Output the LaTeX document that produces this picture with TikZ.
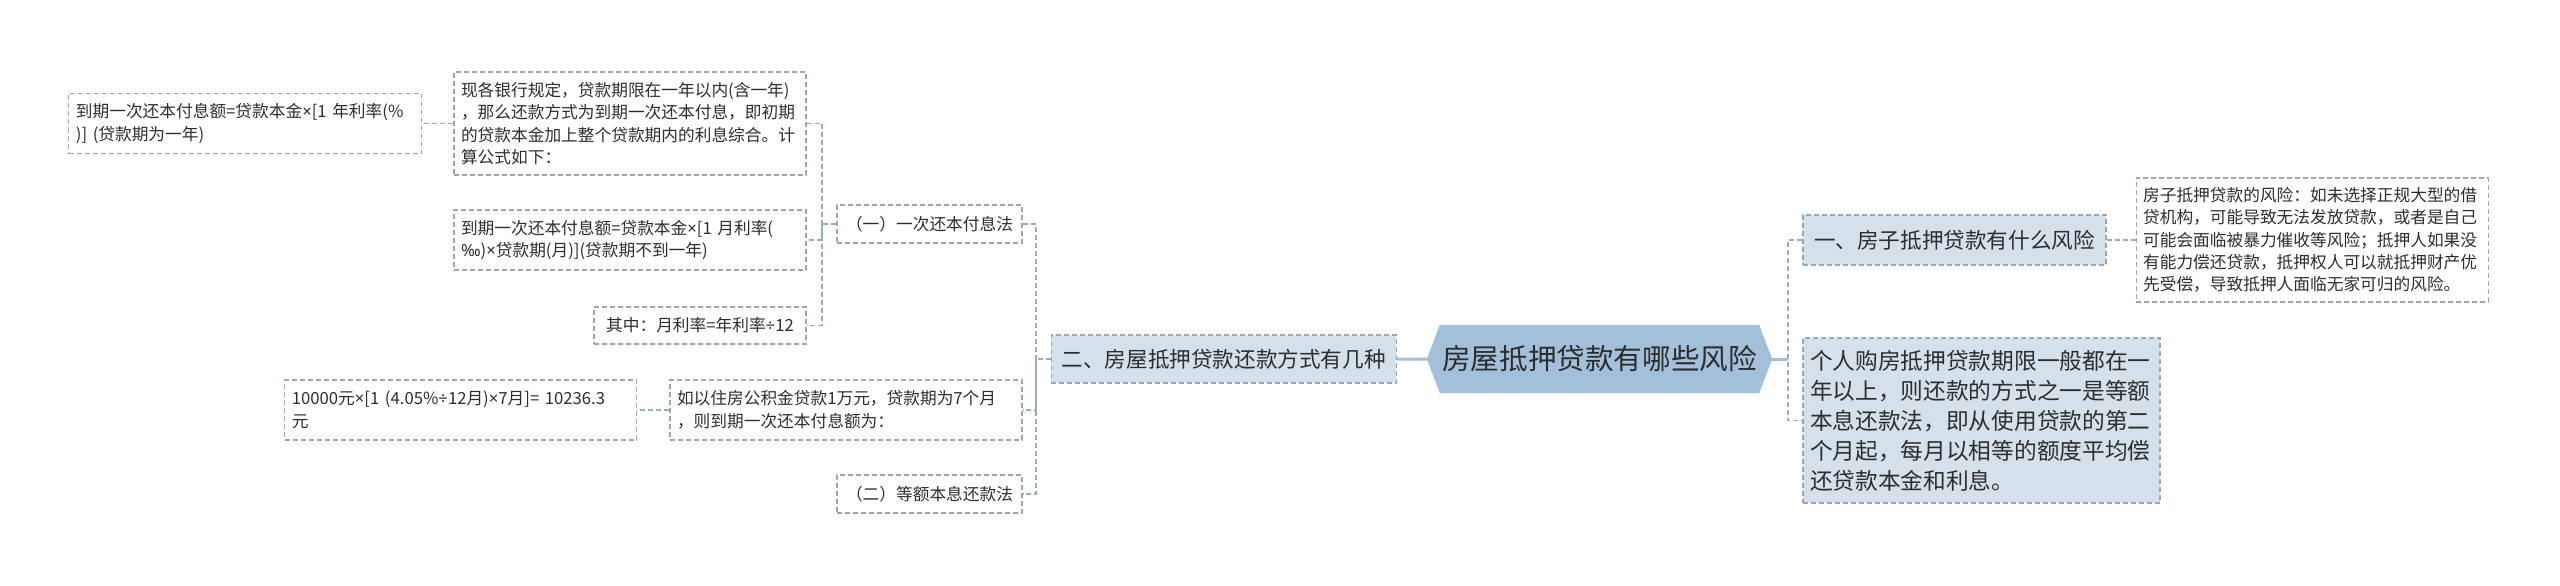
\documentclass[tikz,border=0pt]{standalone}
\usepackage{fontspec}
\setmainfont{Noto Sans CJK SC}
\newfontfamily\symf{Noto Sans}
\newcommand{\xmul}{{\symf ×}}
\newcommand{\xdiv}{{\symf ÷}}
\newcommand{\xmil}{{\symf ‰}}
\usetikzlibrary{shapes.symbols, positioning}
\definecolor{edgec}{RGB}{152,166,182}
\definecolor{boxc}{RGB}{212,224,234}
\definecolor{rootc}{RGB}{163,192,219}
\definecolor{linkc}{RGB}{150,172,196}
\definecolor{txtc}{RGB}{45,45,45}

\begin{document}
\begin{tikzpicture}[
    x=1pt, y=-1pt,
    leaf/.style={draw=edgec, dash pattern=on 5pt off 3pt, line width=1.1pt, text=txtc, align=left,
        inner xsep=7pt, inner ysep=4pt, font=\fontsize{16.7pt}{22.4pt}\selectfont},
    tag/.style={leaf, align=center},
    topic/.style={leaf, fill=boxc, align=center, font=\fontsize{21.6pt}{26pt}\selectfont},
    rootbox/.style={shape=signal, signal to=west and east, signal pointer angle=138, fill=rootc, draw=rootc,
        text=txtc, minimum width=345pt, minimum height=68pt, inner sep=0pt, font=\fontsize{28.6pt}{34pt}\selectfont},
    link/.style={draw=linkc, line width=1.3pt, dash pattern=on 5pt off 3pt},
    trunk/.style={draw=rootc, line width=3pt}
]
\useasboundingbox (0,0) rectangle (2560,586);

% centre
\node[rootbox] (root) at (1599.5,359) {房屋抵押贷款有哪些风险};

% left branch
\node[topic, minimum width=345pt, minimum height=48pt, left=30pt of root] (ways) {二、房屋抵押贷款还款方式有几种};
\node[tag, minimum width=185pt, minimum height=38pt] (once) at (929.5,224) {（一）一次还本付息法};
\node[tag, minimum width=185pt, minimum height=38pt] (equal) at (929.5,494) {（二）等额本息还款法};
\node[leaf, text width=338pt, minimum height=60pt] (example) at (846,410) {如以住房公积金贷款1万元，贷款期为7个月\\，则到期一次还本付息额为：};
\node[leaf, text width=338pt, minimum height=60pt, left=32pt of example] (result) {10000元\xmul{}[1 (4.05\%\xdiv{}12月)\xmul{}7月]= 10236.3\\元};
\node[leaf, text width=338pt, minimum height=103pt] (rule) at (630,123.5) {现各银行规定，贷款期限在一年以内(含一年)\\，那么还款方式为到期一次还本付息，即初期\\的贷款本金加上整个贷款期内的利息综合。计\\算公式如下：};
\node[leaf, text width=339pt, minimum height=60pt, left=31pt of rule] (yearly) {到期一次还本付息额=贷款本金\xmul{}[1 年利率(\%\\)] (贷款期为一年)};
\node[leaf, text width=338pt, minimum height=60pt] (monthly) at (630,240) {到期一次还本付息额=贷款本金\xmul{}[1 月利率(\\\xmil{})\xmul{}贷款期(月)](贷款期不到一年)};
\node[tag, minimum width=212pt, minimum height=37pt] (rate) at (700,325.5) {其中：月利率=年利率\xdiv{}12};

% right branch
\node[topic, minimum width=303pt, minimum height=50pt] (risk) at (1954.5,240) {一、房子抵押贷款有什么风险};
\node[leaf, text width=338pt, minimum height=124pt, right=29pt of risk] (riskinfo) {房子抵押贷款的风险：如未选择正规大型的借\\贷机构，可能导致无法发放贷款，或者是自己\\可能会面临被暴力催收等风险；抵押人如果没\\有能力偿还贷款，抵押权人可以就抵押财产优\\先受偿，导致抵押人面临无家可归的风险。};
\node[leaf, fill=boxc, text width=343pt, minimum height=165pt, inner xsep=7pt,
    font=\fontsize{22.7pt}{30pt}\selectfont] (term) at (1981.5,420.5) {个人购房抵押贷款期限一般都在一\\年以上，则还款的方式之一是等额\\本息还款法，即从使用贷款的第二\\个月起，每月以相等的额度平均偿\\还贷款本金和利息。};

\coordinate (ltrunk) at (1036,359);
\coordinate (otrunk) at (822,224);
\coordinate (rtrunk) at (1788,359);

\draw[trunk] (ways) -- (root);
\draw[trunk] (root.east) -- (rtrunk);
\draw[link] (ways.west) -- (ltrunk);
\draw[link] (once.east) -| (ltrunk) |- (equal.east);
\draw[link] (ltrunk) |- (example.east);
\draw[link] (example) -- (result);
\draw[link] (once.west) -- (otrunk);
\draw[link] (rule.east) -| (otrunk) |- (rate.east);
\draw[link] (otrunk) |- (monthly.east);
\draw[link] (rule) -- (yearly);
\draw[link] (risk.west) -| (rtrunk) |- (term.west);
\draw[link] (risk) -- (riskinfo);
\end{tikzpicture}
\end{document}
